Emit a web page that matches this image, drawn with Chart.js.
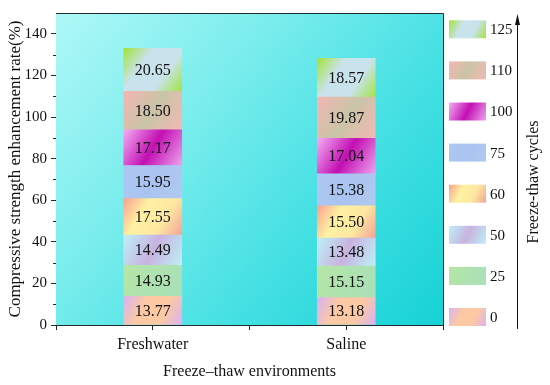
<!DOCTYPE html>
<html>
<head>
<meta charset="utf-8">
<script src="https://cdn.jsdelivr.net/npm/chart.js@4.4.1/dist/chart.umd.min.js"></script>
<style>
  body { margin: 0; background: #fff; }
  #wrap { width: 550px; height: 385px; position: relative; }
</style>
</head>
<body>
<div id="wrap"><canvas id="c"></canvas></div>
<script>
// categories on the x axis and the freeze-thaw cycle series
var categories = ["Freshwater", "Saline"];
var cycles = ["0", "25", "50", "60", "75", "100", "110", "125"];
var freshwater = [13.77, 14.93, 14.49, 17.55, 15.95, 17.17, 18.50, 20.65];
var saline = [13.18, 15.15, 13.48, 15.50, 15.38, 17.04, 19.87, 18.57];
var yTicks = [0, 20, 40, 60, 80, 100, 120, 140];

var seriesByCategory = [freshwater, saline];

// gradient stops for each cycle (style only)
var segStops = [
    ["#d8b2f2", "#fcc9a4", "#fcc9a4", "#d9b3ef"],
    ["#b6e6a6", "#aee2b0", "#a9e0b8"],
    ["#bdf0f6", "#c8b3e0", "#bdeff6"],
    ["#f7a28e", "#fff1a2", "#fde7a0", "#f4a396"],
    ["#adc8f2", "#a9c4f0", "#b0c9ef"],
    ["#f4aef4", "#c20fb2", "#eda4ee"],
    ["#f3b7b2", "#c9c4a8", "#f2b9b4"],
    ["#a2e23a", "#c9e3ec", "#c9e3ec", "#a4e244"]
];

var axisColor = "#1e2a2c";
var textColor = "#111";
var serif = "'Liberation Serif', 'Times New Roman', serif";
var barW = 58;

function makeGrad(g, x0, y0, x1, y1, stops) {
    var gr = g.createLinearGradient(x0, y0, x1, y1);
    stops.forEach(function(c, i) { gr.addColorStop(i / (stops.length - 1), c); });
    return gr;
}

function catX(ci) { return 2 * ci + 1; }

var datasets = cycles.map(function(cy, d) {
    return {
        label: cy,
        data: categories.map(function(cat, ci) {
            return { x: catX(ci), y: seriesByCategory[ci][d] };
        }),
        barThickness: barW,
        borderWidth: 0,
        backgroundColor: function(c) {
            var chart = c.chart;
            if (c.dataIndex === undefined || !chart.chartArea || !chart.scales.y) return segStops[d][0];
            var xs = chart.scales.x, ys = chart.scales.y;
            var vals = seriesByCategory[c.dataIndex];
            var base = 0;
            for (var k = 0; k < d; k++) base += vals[k];
            var xc = xs.getPixelForValue(catX(c.dataIndex));
            return makeGrad(chart.ctx, xc - barW / 2, ys.getPixelForValue(base + vals[d]),
                            xc + barW / 2, ys.getPixelForValue(base), segStops[d]);
        }
    };
});

/* plot background, box, minor ticks, value labels and the cycle legend */
var decor = {
    id: "decor",
    beforeDatasetsDraw: function(chart) {
        var a = chart.chartArea, g = chart.ctx;
        g.save();
        g.fillStyle = makeGrad(g, a.left, a.top, a.right, a.bottom, ["#aef8f7", "#7ceded", "#44e0e3", "#16d2d6"]);
        g.fillRect(a.left, a.top, a.right - a.left, a.bottom - a.top);
        g.restore();
    },
    afterDatasetsDraw: function(chart) {
        var g = chart.ctx;
        g.save();
        g.font = "16px " + serif;
        g.fillStyle = textColor;
        g.textAlign = "center";
        g.textBaseline = "middle";
        chart.data.datasets.forEach(function(ds, d) {
            chart.getDatasetMeta(d).data.forEach(function(el, i) {
                var p = el.getCenterPoint();
                g.fillText(ds.data[i].y.toFixed(2), p.x, p.y + 1);
            });
        });
        g.restore();
    },
    afterDraw: function(chart) {
        var a = chart.chartArea, g = chart.ctx, ys = chart.scales.y;
        g.save();
        g.strokeStyle = axisColor;
        g.lineWidth = 1;
        g.beginPath();
        g.moveTo(a.left, a.top + 0.5);
        g.lineTo(a.right + 0.5, a.top + 0.5);
        g.lineTo(a.right + 0.5, a.bottom);
        // minor y ticks
        for (var v = 10; v < 140; v += 20) {
            var py = Math.round(ys.getPixelForValue(v)) + 0.5;
            g.moveTo(a.left - 3, py);
            g.lineTo(a.left, py);
        }
        g.stroke();

        // legend: cycles from bottom to top
        var sx = 449, sw = 37, sh = 18, yb = 317, step = 41.1;
        g.font = "15px " + serif;
        g.fillStyle = textColor;
        g.textBaseline = "middle";
        g.textAlign = "left";
        cycles.forEach(function(cy, d) {
            var yc = yb - d * step;
            g.fillStyle = makeGrad(g, sx, yc - sh / 2, sx + sw, yc + sh / 2, segStops[d]);
            g.fillRect(sx, yc - sh / 2, sw, sh);
            g.fillStyle = textColor;
            g.fillText(cy, sx + sw + 4, yc + 1);
        });

        // arrow
        g.strokeStyle = "#111";
        g.beginPath();
        g.moveTo(517.5, 329);
        g.lineTo(517.5, 22);
        g.stroke();
        g.fillStyle = "#111";
        g.beginPath();
        g.moveTo(517.5, 14);
        g.lineTo(515, 25);
        g.lineTo(520, 25);
        g.closePath();
        g.fill();

        g.translate(534, 182);
        g.rotate(-Math.PI / 2);
        g.textAlign = "center";
        g.font = "16px " + serif;
        g.fillText("Freeze-thaw cycles", 0, 0);
        g.restore();
    }
};

new Chart(document.getElementById("c"), {
    type: "bar",
    data: { datasets: datasets },
    plugins: [decor],
    options: {
        responsive: true,
        maintainAspectRatio: false,
        animation: false,
        layout: { padding: { top: 12, right: 107, left: 0, bottom: 0 } },
        plugins: { legend: { display: false }, tooltip: { enabled: false } },
        scales: {
            x: {
                type: "linear",
                stacked: true,
                offset: false,
                min: 0,
                max: 2 * categories.length,
                afterFit: function(s) { s.height = 60; },
                afterBuildTicks: function(s) {
                    s.ticks = [];
                    for (var v = 0; v <= 2 * categories.length; v++) s.ticks.push({ value: v });
                },
                grid: { offset: false, drawOnChartArea: false, tickLength: 5, color: axisColor },
                border: { display: true, color: axisColor, width: 1 },
                ticks: {
                    padding: 5,
                    color: textColor,
                    font: { family: serif, size: 16 },
                    callback: function(v) { return v % 2 === 1 ? categories[(v - 1) / 2] : ""; }
                },
                title: {
                    display: true,
                    text: "Freeze–thaw environments",
                    color: textColor,
                    padding: 4,
                    font: { family: serif, size: 16 }
                }
            },
            y: {
                stacked: true,
                min: 0,
                max: 150,
                afterFit: function(s) { s.width = 56; },
                afterBuildTicks: function(s) {
                    s.ticks = yTicks.map(function(v) { return { value: v }; });
                },
                grid: { drawOnChartArea: false, tickLength: 5, color: axisColor },
                border: { display: true, color: axisColor, width: 1 },
                ticks: {
                    padding: 4,
                    color: textColor,
                    font: { family: serif, size: 15 }
                },
                title: {
                    display: true,
                    text: "Compressive strength enhancement rate(%)",
                    color: textColor,
                    padding: 5,
                    font: { family: serif, size: 17 }
                }
            }
        }
    }
});
</script>
</body>
</html>
